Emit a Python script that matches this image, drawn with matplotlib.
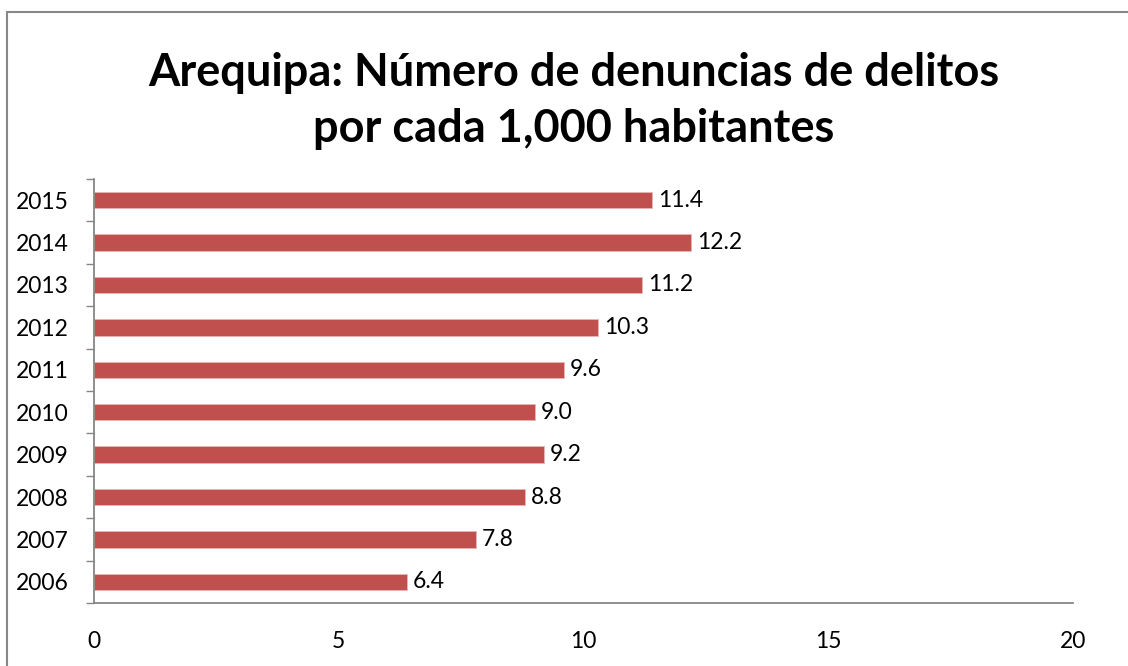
import matplotlib
matplotlib.use("Agg")
import matplotlib.pyplot as plt
from matplotlib.patches import Rectangle

years = ["2006", "2007", "2008", "2009", "2010", "2011", "2012", "2013", "2014", "2015"]
values = [6.4, 7.8, 8.8, 9.2, 9.0, 9.6, 10.3, 11.2, 12.2, 11.4]
xticks = [0, 5, 10, 15, 20]
title = "Arequipa: Número de denuncias de delitos\npor cada 1,000 habitantes"

plt.rcParams['font.family'] = ['Lato', 'DejaVu Sans']

W, H = 1128, 666
fig = plt.figure(figsize=(W / 100, H / 100), dpi=100)
fig.patch.set_facecolor('white')

# chart frame
frame = Rectangle((7 / W, -0.1), 1.2, (H - 12) / H + 0.1, transform=fig.transFigure,
                  fill=False, edgecolor='#878787', linewidth=1.5)
fig.add_artist(frame)

ax = fig.add_axes([94 / W, 1 - 603 / H, (1073 - 94) / W, (603 - 179) / H])
pos = list(range(len(years)))
ax.barh(pos, values, height=0.39, color='#C0504D', edgecolor='#E8B6B5', linewidth=0.6)
ax.set_xlim(0, 20)
ax.set_ylim(-0.5, len(years) - 0.5)
ax.set_xticks(xticks)
ax.set_xticklabels([str(t) for t in xticks])
ax.set_yticks(pos)
ax.set_yticklabels(years)
ax.set_yticks([p - 0.5 for p in range(len(years) + 1)], minor=True)
ax.tick_params(axis='y', which='major', length=0, pad=18, labelsize=16.5)
ax.tick_params(axis='y', which='minor', length=6, color='#868686', width=1)
ax.tick_params(axis='x', length=0, pad=20, labelsize=16.5)
for s in ['top', 'right']:
    ax.spines[s].set_visible(False)
for s in ['left', 'bottom']:
    ax.spines[s].set_color('#868686')
    ax.spines[s].set_linewidth(1.3)

for v, p in zip(values, pos):
    ax.text(v + 0.12, p, f"{v:.1f}", va='center', ha='left', fontsize=16.5, color='black')

fig.text(574 / W, 1 - 101 / H, title, ha='center', va='center', fontsize=32.5,
         fontweight='bold', linespacing=1.42)

fig.savefig("out.png", dpi=100, facecolor='white')
